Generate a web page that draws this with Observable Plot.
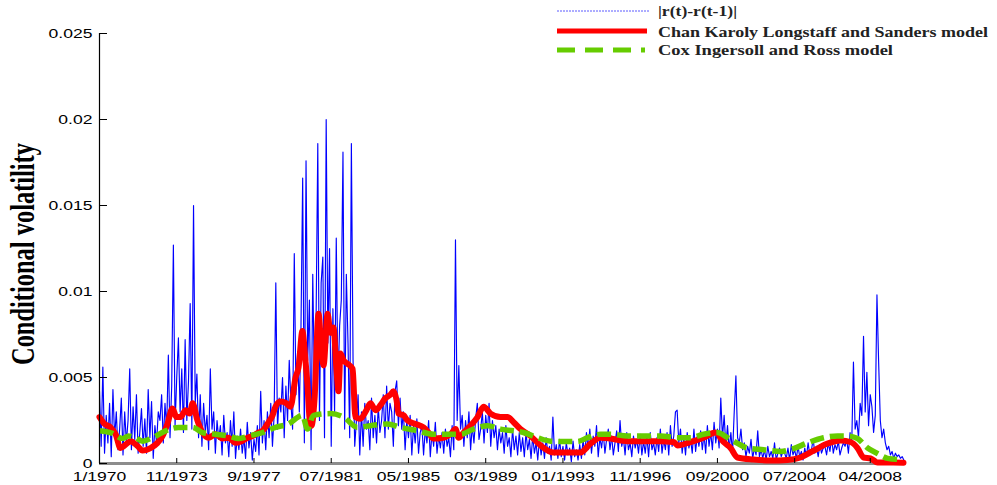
<!DOCTYPE html>
<html><head><meta charset="utf-8">
<script src="https://cdn.jsdelivr.net/npm/d3@7"></script>
<script src="https://cdn.jsdelivr.net/npm/@observablehq/plot@0.6"></script>
<style>html,body{margin:0;padding:0;background:#fff;}</style>
</head><body><div id="chart"></div>
<script>
// ---- data ----
const startYear = 1970;
// monthly |r(t)-r(t-1)|, in units of 1e-4
const absDiff = [
  42,10,56,6,28,12,35,4,43,15,30,8,        // 1970
  20,38,5,30,12,25,55,8,33,14,40,6,        // 1971
  18,32,10,26,6,43,15,36,3,22,12,30,       // 1972
  25,40,12,35,20,63,15,45,127,22,50,73,    // 1973
  30,55,18,72,25,48,93,20,150,35,52,15,    // 1974
  40,10,35,18,28,8,55,20,30,6,25,14,       // 1975
  22,5,28,12,18,4,25,10,30,3,16,8,         // 1976
  20,6,15,3,24,9,18,2,14,7,22,5,           // 1977
  42,12,25,8,30,15,35,10,28,105,20,38,     // 1978
  30,50,15,45,25,60,35,20,122,40,65,30,    // 1979
  80,166,12,176,60,95,8,110,45,85,186,25,  // 1980
  105,120,15,200,70,125,10,90,30,131,45,80,// 1981
  95,181,20,110,70,15,186,60,10,25,40,5,   // 1982
  30,10,35,20,25,8,38,15,28,12,33,18,      // 1983
  25,40,15,45,20,35,30,10,42,48,22,38,     // 1984
  20,30,8,25,15,28,5,22,12,26,6,18,        // 1985
  22,5,20,12,25,4,18,10,24,6,16,9,         // 1986
  18,6,20,10,15,4,22,8,130,25,57,20,       // 1987
  28,10,25,15,30,8,22,12,26,35,14,20,      // 1988
  30,12,28,18,35,10,25,15,22,8,20,12,      // 1989
  18,6,22,10,15,4,20,8,16,5,18,7,          // 1990
  15,4,18,8,14,3,16,6,12,2,14,5,           // 1991
  12,3,15,6,10,2,27,5,11,3,14,4,           // 1992
  10,2,12,5,9,1,13,4,8,2,11,3,             // 1993
  14,5,18,8,20,6,16,10,22,4,15,9,          // 1994
  18,6,14,20,8,16,5,12,19,7,25,10,         // 1995
  15,5,18,8,12,4,16,9,14,6,17,5,           // 1996
  13,6,16,4,18,8,12,5,15,7,20,6,           // 1997
  14,8,18,5,22,10,16,30,31,12,20,6,        // 1998
  15,5,18,9,14,6,20,7,16,10,19,8,          // 1999
  17,6,22,10,18,8,24,12,20,9,38,15,        // 2000
  28,10,22,8,18,6,30,51,15,12,20,8,        // 2001
  12,4,10,6,14,3,9,5,19,4,8,3,             // 2002
  8,2,10,4,7,3,12,2,6,9,4,7,               // 2003
  6,3,9,2,11,5,8,3,10,4,7,2,               // 2004
  9,4,12,5,8,14,6,10,4,11,6,9,             // 2005
  10,5,12,7,15,6,11,8,13,5,9,12,           // 2006
  10,14,6,18,12,59,20,25,15,35,28,74,      // 2007
  30,53,22,40,33,18,28,98,59,25,15,20,     // 2008
  12,8,10,5,7,3,6,4,5,3,4,2                // 2009
];
// CKLS conditional volatility (decimal year, units of 1e-4)
const cklsT = [
  1970.0,1970.25,1970.55,1970.8,1971.04,1971.3,1971.54,1971.9,1972.13,1972.53,
  1972.88,1973.13,1973.37,1973.62,1973.82,1974.02,1974.27,1974.47,1974.62,1974.86,
  1975.11,1975.41,1975.76,1976.1,1976.4,1976.75,1977.05,1977.35,1977.6,1977.9,
  1978.09,1978.39,1978.59,1978.73,1978.98,1979.28,1979.48,1979.73,1979.88,1980.07,
  1980.22,1980.32,1980.42,1980.52,1980.67,1980.87,1981.02,1981.12,1981.32,1981.46,
  1981.61,1981.76,1981.86,1981.96,1982.11,1982.31,1982.56,1982.7,1982.95,1983.2,
  1983.45,1983.7,1983.95,1984.19,1984.44,1984.59,1984.74,1984.84,1985.09,1985.29,
  1985.68,1986.08,1986.33,1986.58,1987.07,1987.42,1987.67,1987.82,1988.07,1988.41,
  1988.76,1989.06,1989.41,1989.9,1990.25,1990.55,1990.89,1991.39,1991.89,1992.53,
  1993.23,1993.87,1994.37,1994.86,1995.36,1996.2,1997.0,1997.84,1998.49,1998.69,
  1999.33,1999.98,2000.57,2000.97,2001.32,2001.66,2002.46,2003.3,2004.14,2004.79,
  2005.44,2006.13,2006.78,2007.27,2007.62,2007.92,2008.27,2008.61,2009.4,2009.9
];
const cklsV = [
  27,23,21,17,9,11,13,10,7.5,9,
  12,16,23,32,27,27,31,29,35,25,
  18,15,17,14.5,15,12,13,15,16,18,
  19,24,28,33,36,35,33,50,56,77,
  60,46,27,22,37,87,65,57,87,76,
  79,55,42,64,60,58,55,27,26,30,
  35,31,34,38,40,42,37,29,28,25,
  23,21,18,14.5,15,17,20,15,18,22,
  27,33,29,27,27,24,20,16,10.5,6.4,
  6.4,6.4,11.6,15,14.5,13,13,13,12.5,10.5,
  12.5,15,18,12.5,9,3.5,2.3,1.7,2,3.5,
  7.5,11.6,13.4,12.5,9,3.5,3,0.6,0.6,0.5
];
// CIR conditional volatility (decimal year, units of 1e-4)
const cirT = [
  1970.0,1970.65,1971.14,1971.44,1971.79,1972.13,1972.63,1973.28,1973.92,1974.62,
  1975.11,1975.76,1976.4,1976.9,1977.4,1978.09,1978.73,1979.38,1980.07,1980.32,
  1980.62,1981.46,1982.11,1982.8,1983.45,1984.29,1984.94,1985.78,1986.58,1987.27,
  1987.92,1988.56,1989.26,1989.9,1990.55,1991.04,1991.74,1992.38,1993.23,1993.72,
  1994.22,1994.86,1995.36,1996.2,1997.0,1997.84,1998.69,1999.33,1999.98,2000.67,
  2001.17,2001.47,2002.16,2002.96,2003.8,2004.44,2005.14,2005.93,2006.63,2007.12,
  2007.62,2008.12,2008.61,2009.11,2009.75
];
const cirV = [
  19,17.5,14.5,16,15,13,15,19,21,21,
  18,17,16,14.5,16,18,21,23,28,20,
  28,29,27,21,22,23,21,19,17,17,
  17,20,22,20,19,18,15,13,12.8,12.8,
  15,17,17,16,16,16,15,15,17,18,
  15,13,9,8,7,8.7,12,15,16,16,
  14.5,9,5.8,3,2.3
];
const tickYears = [1970, 1973 + 10/12, 1977 + 8/12, 1981.5, 1985 + 4/12, 1989 + 2/12, 1993, 1996 + 10/12, 2000 + 8/12, 2004.5, 2008.25];
const tickLabels = ["1/1970","11/1973","9/1977","07/1981","05/1985","03/1989","01/1993","11/1996","09/2000","07/2004","04/2008"];
const yTicks = [0, 0.005, 0.01, 0.015, 0.02, 0.025];
const yTickLabels = ["0","0.005","0.01","0.015","0.02","0.025"];
const seriesNames = ["|r(t)-r(t-1)|", "Chan Karoly Longstaff and Sanders model", "Cox Ingersoll and Ross model"];
const yTitle = "Conditional volatility";

// ---- tables ----
const blue = absDiff.map((v, i) => ({t: startYear + i / 12, v: v / 1e4}));
const red = cklsT.map((t, i) => ({t, v: cklsV[i] / 1e4}));
const green = cirT.map((t, i) => ({t, v: cirV[i] / 1e4}));

const C_BLUE = "#0000ff", C_RED = "#ff0000", C_GREEN = "#66cc00";

const chart = Plot.plot({
  width: 997, height: 485,
  marginLeft: 99, marginRight: 92, marginTop: 33, marginBottom: 22,
  style: {background: "#fff", fontFamily: "'Liberation Sans', Arial, sans-serif", fontSize: "13px", color: "#000", overflow: "visible"},
  x: {type: "linear", domain: [1970, 2010]},
  y: {domain: [0, 0.025]},
  marks: [
    Plot.ruleY([0], {stroke: "#8c8c8c", strokeWidth: 3}),
    Plot.lineY(blue, {x: "t", y: "v", stroke: C_BLUE, strokeWidth: 1.15}),
    Plot.lineY(red, {x: "t", y: "v", stroke: C_RED, strokeWidth: 6, curve: "monotone-x", strokeLinejoin: "round", strokeLinecap: "round"}),
    Plot.lineY(green, {x: "t", y: "v", stroke: C_GREEN, strokeWidth: 5.5, strokeDasharray: "14,6", strokeLinecap: "butt", curve: "monotone-x"}),
    Plot.ruleX([1970], {stroke: "#000", strokeWidth: 1.2}),
    Plot.axisX({ticks: tickYears, tickFormat: (d, i) => tickLabels[i], tickSize: 0, tickPadding: 8, label: null, fontSize: 13}),
    Plot.axisX({ticks: tickYears, tickSize: -5, text: null, label: null}),
    Plot.axisY({ticks: yTicks, tickFormat: (d, i) => yTickLabels[i], tickSize: 0, tickPadding: 7, label: null, fontSize: 13}),
    Plot.axisY({ticks: yTicks, tickSize: -8, text: null, label: null})
  ]
});
document.getElementById("chart").appendChild(chart);

const svg = d3.select(chart);
// stretch tick labels horizontally like the reference
svg.selectAll('g[aria-label="x-axis tick label"] text, g[aria-label="y-axis tick label"] text').each(function () {
  let t = this.getAttribute("transform");
  if (!t) {
    const x = this.getAttribute("x") || 0, y = this.getAttribute("y") || 0;
    this.removeAttribute("x"); this.removeAttribute("y");
    t = `translate(${x},${y})`;
  }
  this.setAttribute("transform", t + " scale(1.35,1)");
});

// y title
svg.append("text")
  .attr("transform", "translate(34,254) rotate(-90) scale(1,1.39)")
  .attr("text-anchor", "middle")
  .attr("font-family", "'Liberation Serif', 'Times New Roman', serif")
  .attr("font-weight", "bold")
  .attr("font-size", 24.4)
  .attr("textLength", 222)
  .attr("lengthAdjust", "spacingAndGlyphs")
  .attr("fill", "#000")
  .text(yTitle);

// legend
const legendRows = [
  {ly: 11, ty: 16, stroke: "#5a5aff", w: 1, dash: "2,1", x2: 650, len: 79},
  {ly: 31, ty: 37, stroke: C_RED, w: 5, dash: null, x2: 647, len: 330},
  {ly: 50, ty: 55, stroke: C_GREEN, w: 5, dash: "18,10", x2: 645, len: 235}
];
const lg = svg.append("g").attr("text-anchor", "start");
legendRows.forEach((r, i) => {
  const ln = lg.append("line").attr("x1", 557).attr("x2", r.x2).attr("y1", r.ly).attr("y2", r.ly)
    .attr("stroke", r.stroke).attr("stroke-width", r.w);
  if (r.dash) ln.attr("stroke-dasharray", r.dash);
  lg.append("text").attr("x", 658).attr("y", r.ty)
    .attr("text-anchor", "start")
    .attr("font-family", "'Liberation Serif', 'Times New Roman', serif")
    .attr("font-weight", "bold").attr("font-size", 14).attr("fill", "#222")
    .attr("textLength", r.len).attr("lengthAdjust", "spacingAndGlyphs")
    .text(seriesNames[i]);
});
</script>
</body></html>
